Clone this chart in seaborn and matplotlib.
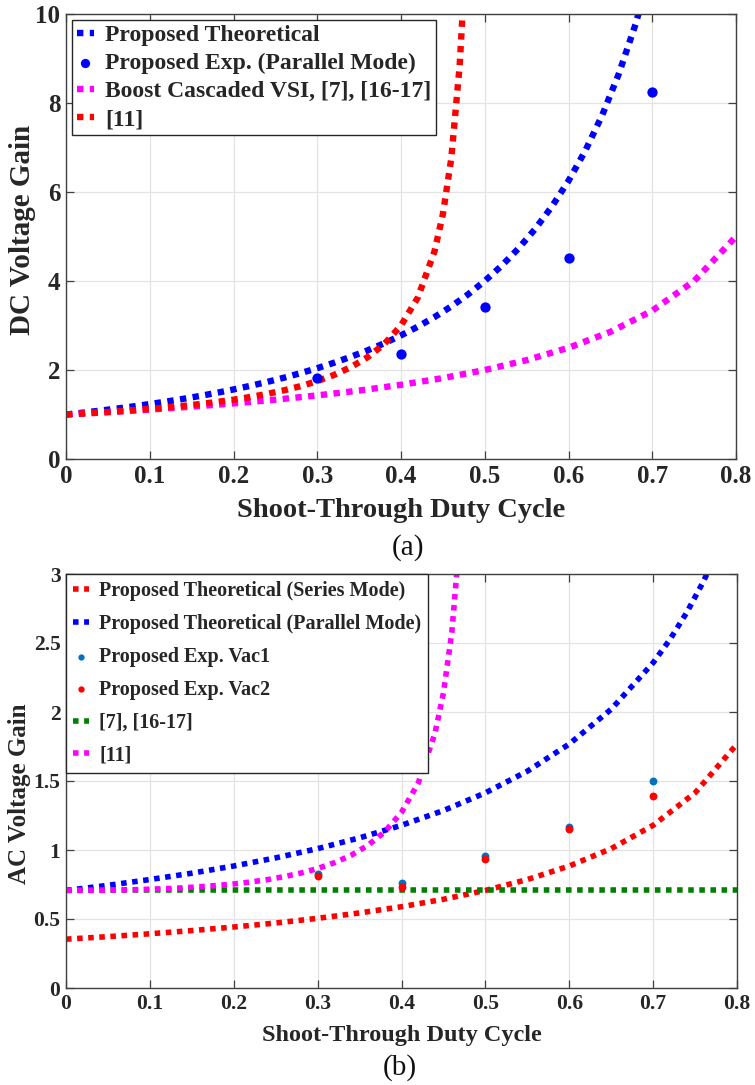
import matplotlib
matplotlib.use("Agg")
import matplotlib.pyplot as plt
import seaborn as sns
import pandas as pd

# ---------------- data ----------------
# (a) DC voltage gain
d_prop_theo = [0.00, 0.02, 0.04, 0.06, 0.08, 0.10, 0.12, 0.14, 0.16, 0.18, 0.20, 0.22, 0.24, 0.26,
               0.28, 0.30, 0.32, 0.34, 0.36, 0.38, 0.40, 0.42, 0.44, 0.46, 0.48, 0.50, 0.52, 0.54,
               0.56, 0.58, 0.60, 0.62, 0.64, 0.66, 0.68, 0.70]
g_prop_theo = [1.000, 1.041, 1.085, 1.132, 1.181, 1.235, 1.291, 1.352, 1.417, 1.487, 1.563, 1.644,
               1.731, 1.826, 1.929, 2.041, 2.163, 2.296, 2.441, 2.601, 2.778, 2.973, 3.189, 3.429,
               3.698, 4.000, 4.340, 4.726, 5.165, 5.669, 6.250, 6.925, 7.716, 8.651, 9.766, 11.11]

d_prop_exp = [0.3, 0.4, 0.5, 0.6, 0.7]
g_prop_exp = [1.83, 2.37, 3.42, 4.52, 8.24]

d_boost = [0.00, 0.05, 0.10, 0.15, 0.20, 0.25, 0.30, 0.35, 0.40, 0.45, 0.50, 0.55, 0.60, 0.65,
           0.70, 0.75, 0.80]
g_boost = [1.000, 1.053, 1.111, 1.176, 1.250, 1.333, 1.429, 1.538, 1.667, 1.818, 2.000, 2.222,
           2.500, 2.857, 3.333, 4.000, 5.000]

d_ref11 = [0.00, 0.02, 0.04, 0.06, 0.08, 0.10, 0.12, 0.14, 0.16, 0.18, 0.20, 0.22, 0.24, 0.26,
           0.28, 0.30, 0.32, 0.34, 0.36, 0.38, 0.40, 0.42, 0.44, 0.45, 0.46, 0.47, 0.475]
g_ref11 = [1.000, 1.021, 1.043, 1.068, 1.095, 1.125, 1.158, 1.194, 1.235, 1.281, 1.333, 1.393,
           1.462, 1.542, 1.636, 1.750, 1.889, 2.063, 2.286, 2.583, 3.000, 3.625, 4.667, 5.500,
           6.750, 8.833, 10.50]

# (b) AC voltage gain
d_series = [0.00, 0.05, 0.10, 0.15, 0.20, 0.25, 0.30, 0.35, 0.40, 0.45, 0.50, 0.55, 0.60, 0.65,
            0.70, 0.75, 0.80]
g_series = [0.354, 0.372, 0.393, 0.416, 0.442, 0.471, 0.505, 0.544, 0.589, 0.643, 0.707, 0.786,
            0.884, 1.010, 1.179, 1.414, 1.768]

d_parallel = [0.00, 0.05, 0.10, 0.15, 0.20, 0.25, 0.30, 0.35, 0.40, 0.45, 0.50, 0.55, 0.60, 0.65,
              0.70, 0.72, 0.74, 0.76, 0.78]
g_parallel = [0.707, 0.744, 0.786, 0.832, 0.884, 0.943, 1.010, 1.088, 1.179, 1.286, 1.414, 1.571,
              1.768, 2.020, 2.357, 2.525, 2.720, 2.946, 3.214]

d_exp_ac = [0.3, 0.4, 0.5, 0.6, 0.7]
g_vac1 = [0.826, 0.763, 0.954, 1.170, 1.500]
g_vac2 = [0.810, 0.732, 0.932, 1.150, 1.390]

d_ref7 = [0.0, 0.8]
g_ref7 = [0.707, 0.707]

d_ref11_ac = [0.00, 0.02, 0.04, 0.06, 0.08, 0.10, 0.12, 0.14, 0.16, 0.18, 0.20, 0.22, 0.24, 0.26,
              0.28, 0.30, 0.32, 0.34, 0.36, 0.38, 0.40, 0.42, 0.44, 0.45, 0.46, 0.47]
g_ref11_ac = [0.707, 0.707, 0.708, 0.710, 0.712, 0.716, 0.720, 0.726, 0.734, 0.743, 0.754, 0.768,
              0.785, 0.807, 0.833, 0.866, 0.908, 0.962, 1.034, 1.132, 1.273, 1.486, 1.848, 2.139,
              2.577, 3.310]

x_ticks = [0, 0.1, 0.2, 0.3, 0.4, 0.5, 0.6, 0.7, 0.8]
x_tick_labels = ["0", "0.1", "0.2", "0.3", "0.4", "0.5", "0.6", "0.7", "0.8"]
y_ticks_a = [0, 2, 4, 6, 8, 10]
y_tick_labels_a = ["0", "2", "4", "6", "8", "10"]
y_ticks_b = [0, 0.5, 1, 1.5, 2, 2.5, 3]
y_tick_labels_b = ["0", "0.5", "1", "1.5", "2", "2.5", "3"]

# ---------------- style ----------------
sns.set_theme(style="white")
plt.rcParams['font.family'] = ['Liberation Serif', 'DejaVu Serif']
plt.rcParams['font.weight'] = 'bold'

BLUE = '#0000FF'
RED = '#FF0000'
MAG = '#FF00FF'
GREEN = '#008000'
MBLUE = '#0072BD'
DOT = (0, (1, 1.0))
TXT = '#262626'

fig = plt.figure(figsize=(7.55, 10.85), dpi=100)
ax1 = fig.add_axes([66 / 755, 1 - 459 / 1085, 670 / 755, 445 / 1085])
ax2 = fig.add_axes([66 / 755, 1 - 988 / 1085, 671 / 755, 414 / 1085])


def style_axes(ax, yticks, ylabels, tick_fs):
    ax.set_xlim(0, 0.8)
    ax.set_xticks(x_ticks)
    ax.set_xticklabels(x_tick_labels, fontsize=tick_fs, fontweight='bold', color=TXT)
    ax.set_yticks(yticks)
    ax.set_yticklabels(ylabels, fontsize=tick_fs, fontweight='bold', color=TXT)
    ax.grid(True, color='#e3e3e3', linewidth=0.9)
    ax.set_axisbelow(True)
    for s in ax.spines.values():
        s.set_visible(True)
        s.set_color('#404040')
        s.set_linewidth(1.0)
    ax.tick_params(direction='in', length=6, width=0.9, color='#404040',
                   top=True, right=True, bottom=True, left=True, pad=4)


# ---------------- (a) ----------------
lw_a = 4.6
sns.lineplot(x=d_prop_theo, y=g_prop_theo, ax=ax1, color=BLUE, linewidth=lw_a, linestyle=DOT,
             sort=False, estimator=None, label='Proposed Theoretical')
sns.scatterplot(x=d_prop_exp, y=g_prop_exp, ax=ax1, color=BLUE, s=55, linewidth=0,
                label='Proposed Exp. (Parallel Mode)', zorder=5)
sns.lineplot(x=d_boost, y=g_boost, ax=ax1, color=MAG, linewidth=lw_a, linestyle=DOT,
             sort=False, estimator=None, label='Boost Cascaded VSI, [7], [16-17]')
sns.lineplot(x=d_ref11, y=g_ref11, ax=ax1, color=RED, linewidth=lw_a, linestyle=DOT,
             sort=False, estimator=None, label='[11]')
ax1.set_ylim(0, 10)
style_axes(ax1, y_ticks_a, y_tick_labels_a, 18)
ax1.set_xlabel('Shoot-Through Duty Cycle', fontsize=20.5, fontweight='bold', color=TXT)
ax1.set_ylabel('DC Voltage Gain', fontsize=21, fontweight='bold', color=TXT)
ax1.xaxis.set_label_coords(0.5, -0.088)
ax1.yaxis.set_label_coords(-0.045, 0.515)
leg1 = ax1.legend(loc='upper left', bbox_to_anchor=(0.0, 1.0), borderaxespad=0.25,
                  prop={'family': 'Liberation Serif', 'weight': 'bold', 'size': 17},
                  frameon=True, fancybox=False, edgecolor=TXT, framealpha=1,
                  handlelength=0.75, handletextpad=0.45, labelspacing=0.28, borderpad=0.2,
                  markerscale=0.9)
leg1.get_frame().set_linewidth(1.0)

# ---------------- (b) ----------------
lw_b = 4.0
sns.lineplot(x=d_series, y=g_series, ax=ax2, color=RED, linewidth=lw_b, linestyle=DOT,
             sort=False, estimator=None, label='Proposed Theoretical (Series Mode)')
sns.lineplot(x=d_parallel, y=g_parallel, ax=ax2, color=BLUE, linewidth=lw_b, linestyle=DOT,
             sort=False, estimator=None, label='Proposed Theoretical (Parallel Mode)')
sns.scatterplot(x=d_exp_ac, y=g_vac1, ax=ax2, color=MBLUE, s=32, linewidth=0,
                label='Proposed Exp. Vac1', zorder=5)
sns.scatterplot(x=d_exp_ac, y=g_vac2, ax=ax2, color=RED, s=32, linewidth=0,
                label='Proposed Exp. Vac2', zorder=6)
sns.lineplot(x=d_ref7, y=g_ref7, ax=ax2, color=GREEN, linewidth=lw_b, linestyle=DOT,
             sort=False, estimator=None, label='[7], [16-17]')
sns.lineplot(x=d_ref11_ac, y=g_ref11_ac, ax=ax2, color=MAG, linewidth=lw_b, linestyle=DOT,
             sort=False, estimator=None, label='[11]')
ax2.set_ylim(0, 3)
style_axes(ax2, y_ticks_b, y_tick_labels_b, 15.5)
ax2.set_xlabel('Shoot-Through Duty Cycle', fontsize=17.5, fontweight='bold', color=TXT)
ax2.set_ylabel('AC Voltage Gain', fontsize=18, fontweight='bold', color=TXT)
ax2.xaxis.set_label_coords(0.5, -0.09)
ax2.yaxis.set_label_coords(-0.052, 0.47)
leg2 = ax2.legend(loc='upper left', bbox_to_anchor=(0.0, 1.0), borderaxespad=0.0,
                  prop={'family': 'Liberation Serif', 'weight': 'bold', 'size': 14.5},
                  frameon=True, fancybox=False, edgecolor=TXT, framealpha=1,
                  handlelength=0.8, handletextpad=0.5, labelspacing=0.64, borderpad=0.35,
                  markerscale=0.8)
leg2.get_frame().set_linewidth(1.0)

# ---------------- captions ----------------
fig.text(408 / 755, 1 - 548 / 1085, '(a)', ha='center', va='center', fontsize=21,
         fontweight='normal', color='#111111')
fig.text(400 / 755, 1 - 1068 / 1085, '(b)', ha='center', va='center', fontsize=21,
         fontweight='normal', color='#111111')

fig.savefig('out.png', dpi=100)
